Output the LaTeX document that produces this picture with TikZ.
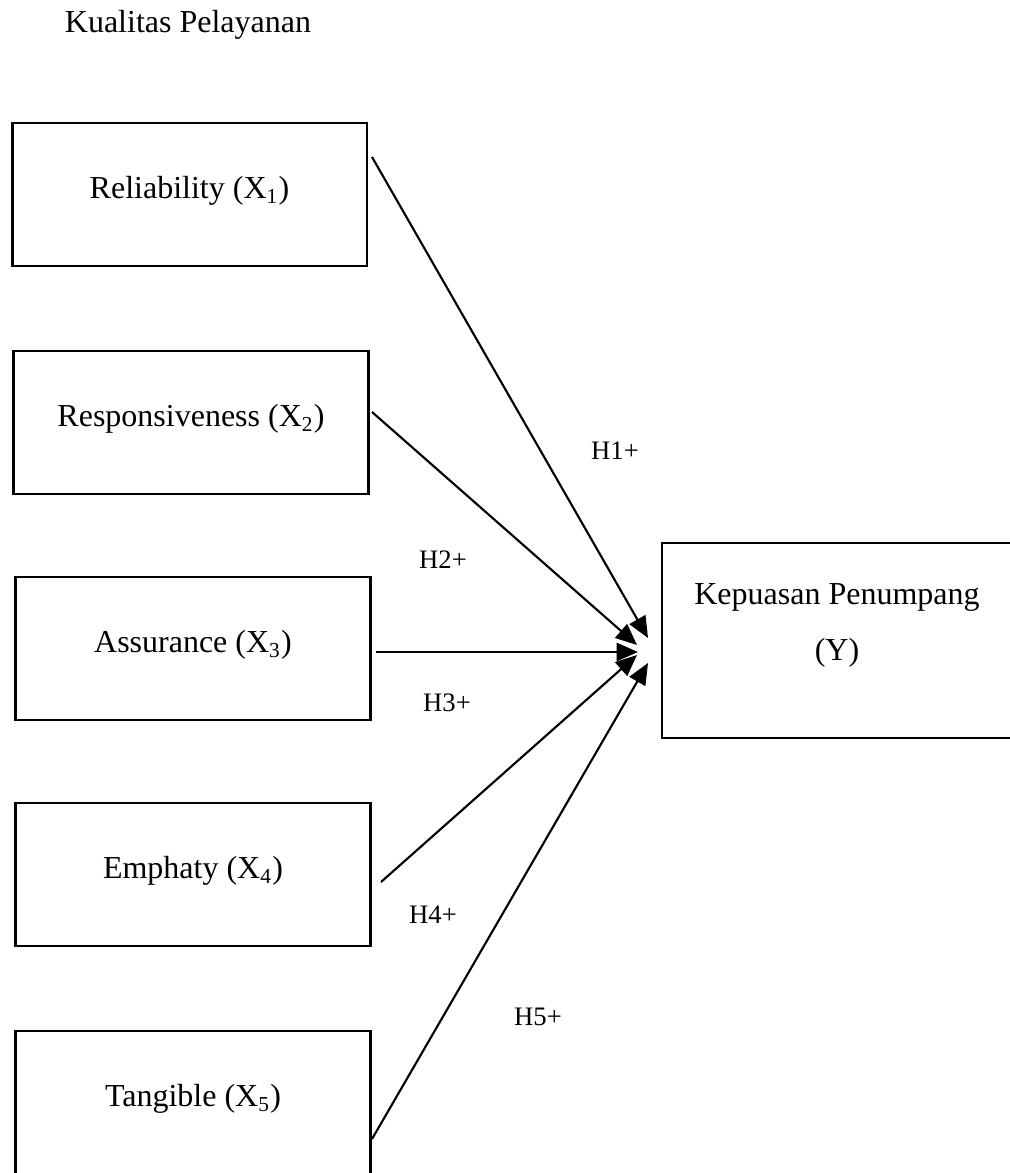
\documentclass[tikz,border=0pt]{standalone}
\usepackage{fontspec}
\setmainfont{Liberation Serif}
\usetikzlibrary{arrows.meta}
\tikzset{
  varbox/.style={draw, line width=1pt, minimum width=133pt, minimum height=53.6pt, inner sep=0pt, text depth=0.5em, font=\fontsize{12}{14}\selectfont},
  hyp/.style={font=\fontsize{10}{12}\selectfont},
  arr/.style={-{Triangle[length=8pt,width=6.8pt]}, line width=0.8pt}
}

\begin{document}
\begin{tikzpicture}[x=0.375pt, y=-0.375pt]
\useasboundingbox (0,0) rectangle (1009,1173);
\node[font=\fontsize{12}{14}\selectfont] (title) at (188,25) {Kualitas Pelayanan};
\node[varbox] (rel) at (189.5,194.5) {Reliability (X\textsubscript{1})};
\node[varbox] (res) at (191,422.5) {Responsiveness (X\textsubscript{2})};
\node[varbox] (ass) at (193,648.5) {Assurance (X\textsubscript{3})};
\node[varbox] (emp) at (193,874.5) {Emphaty (X\textsubscript{4})};
\node[varbox] (tan) at (193,1102.5) {Tangible (X\textsubscript{5})};
\node[varbox, minimum width=131.25pt, minimum height=73.1pt] (kep) at (837,640.5) {};
\node[font=\fontsize{12}{21}\selectfont, align=center] (kept) at (837,625) {Kepuasan Penumpang\\(Y)};
% ends of the arrows
\coordinate (rel-out) at (372,157);
\coordinate (res-out) at (372,412);
\coordinate (ass-out) at (376,652);
\coordinate (emp-out) at (381,882);
\coordinate (tan-out) at (372,1139);
\coordinate (kep-in1) at (648,638);
\coordinate (kep-in2) at (637,645);
\coordinate (kep-in3) at (638,652);
\coordinate (kep-in4) at (637,655);
\coordinate (kep-in5) at (648,663);
\draw[arr] (rel-out) -- (kep-in1);
\draw[arr] (res-out) -- (kep-in2);
\draw[arr] (ass-out) -- (kep-in3);
\draw[arr] (emp-out) -- (kep-in4);
\draw[arr] (tan-out) -- (kep-in5);
\node[hyp] (h1) at (615,451) {H1+};
\node[hyp] (h2) at (443,560) {H2+};
\node[hyp] (h3) at (447,703) {H3+};
\node[hyp] (h4) at (433,915) {H4+};
\node[hyp] (h5) at (538,1017) {H5+};
\end{tikzpicture}
\end{document}
